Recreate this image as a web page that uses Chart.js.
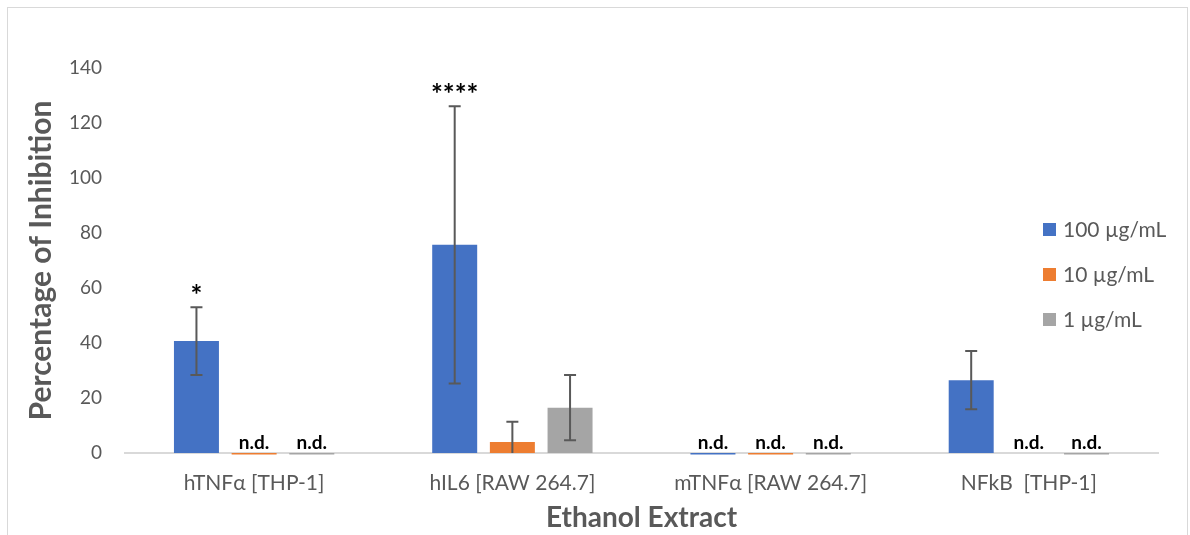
<!DOCTYPE html>
<html>
<head>
<meta charset="utf-8">
<script src="https://cdn.jsdelivr.net/npm/chart.js@4/dist/chart.umd.min.js"></script>
<style>
    html, body { margin: 0; padding: 0; background: #ffffff; overflow: hidden; }
    #wrap { width: 1190px; height: 535px; position: relative; }
</style>
</head>
<body>
<div id="wrap"><canvas id="inhibition"></canvas></div>
<script>
// data
const categories = ["hTNF\u03b1 [THP-1]", "hIL6 [RAW 264.7]", "mTNF\u03b1 [RAW 264.7]", "NFkB  [THP-1]"];
const seriesLabels = ["100 \u00b5g/mL", "10 \u00b5g/mL", "1 \u00b5g/mL"];
const seriesColors = ["#4472C4", "#ED7D31", "#A5A5A5"];

const values100 = [40.7, 75.7, -0.5, 26.5];
const values10 = [-0.5, 4.0, -0.5, 0];
const values1 = [-0.5, 16.5, -0.5, -0.5];

const errors100 = [12.3, 50.4, 0, 10.6];
const errors10 = [0, 7.4, 0, 0];
const errors1 = [0, 11.9, 0, 0];

const marks100 = ["*", "****", "n.d.", ""];
const marks10 = ["n.d.", "", "n.d.", "n.d."];
const marks1 = ["n.d.", "", "n.d.", "n.d."];

const yTicks = [0, 20, 40, 60, 80, 100, 120, 140];

const FONT = "Lato, 'Open Sans', sans-serif";
const GREY_TEXT = "#595959";

// error bars, clipped to the plot area like the original
const errorBarPlugin = {
    id: "errorBars",
    afterDatasetsDraw(chart)
    {
        let ctx = chart.ctx;
        let area = chart.chartArea;
        let yScale = chart.scales.y;
        ctx.save();
        ctx.beginPath();
        ctx.rect(area.left, area.top, area.right - area.left, area.bottom - area.top);
        ctx.clip();
        ctx.strokeStyle = "#595959";
        ctx.lineWidth = 2;
        chart.data.datasets.forEach((ds, i) => {
            let meta = chart.getDatasetMeta(i);
            meta.data.forEach((bar, j) => {
                let err = ds.errors[j];
                if(!err) return;
                let v = ds.data[j];
                let yHi = yScale.getPixelForValue(v + err);
                let yLo = yScale.getPixelForValue(v - err);
                ctx.beginPath();
                ctx.moveTo(bar.x, yHi);
                ctx.lineTo(bar.x, yLo);
                ctx.moveTo(bar.x - 6, yHi);
                ctx.lineTo(bar.x + 6, yHi);
                ctx.moveTo(bar.x - 6, yLo);
                ctx.lineTo(bar.x + 6, yLo);
                ctx.stroke();
            });
        });
        ctx.restore();
    }
};

// significance stars and n.d. labels above each bar
const markPlugin = {
    id: "marks",
    afterDatasetsDraw(chart)
    {
        let ctx = chart.ctx;
        let yScale = chart.scales.y;
        ctx.save();
        ctx.fillStyle = "#000000";
        ctx.textAlign = "center";
        ctx.textBaseline = "alphabetic";
        chart.data.datasets.forEach((ds, i) => {
            let meta = chart.getDatasetMeta(i);
            meta.data.forEach((bar, j) => {
                let text = ds.marks[j];
                if(!text) return;
                let err = ds.errors[j];
                let top = yScale.getPixelForValue(Math.max(ds.data[j], 0) + err);
                if(text === "n.d.")
                {
                    ctx.font = "bold 19px " + FONT;
                    ctx.fillText(text, bar.x, top - 4);
                }
                else
                {
                    ctx.font = "bold 28px " + FONT;
                    ctx.fillText(text, bar.x, top - 2);
                }
            });
        });
        ctx.restore();
    }
};

// legend drawn over the right side of the plot, as in the original
const sideLegendPlugin = {
    id: "sideLegend",
    afterDraw(chart)
    {
        let ctx = chart.ctx;
        ctx.save();
        ctx.font = "21px " + FONT;
        ctx.textAlign = "left";
        ctx.textBaseline = "middle";
        chart.data.datasets.forEach((ds, i) => {
            let y = 229.5 + i * 45;
            ctx.fillStyle = ds.backgroundColor;
            ctx.fillRect(1043, y - 6.5, 13, 13);
            ctx.fillStyle = GREY_TEXT;
            ctx.fillText(ds.label, 1063, y + 1);
        });
        ctx.restore();
    }
};

const framePlugin = {
    id: "frame",
    beforeDraw(chart)
    {
        let ctx = chart.ctx;
        ctx.save();
        ctx.fillStyle = "#ffffff";
        ctx.fillRect(0, 0, chart.width, chart.height);
        ctx.strokeStyle = "#d9d9d9";
        ctx.lineWidth = 1;
        ctx.strokeRect(7.5, 7.5, 1180, 540);
        ctx.restore();
    }
};

function makeDataset(i, values, errors, marks)
{
    return {
        label: seriesLabels[i],
        data: values,
        errors: errors,
        marks: marks,
        backgroundColor: seriesColors[i],
        borderWidth: 0,
        clip: false
    };
}

new Chart(document.getElementById("inhibition").getContext("2d"), {
    type: "bar",
    data: {
        labels: categories,
        datasets: [
            makeDataset(0, values100, errors100, marks100),
            makeDataset(1, values10, errors10, marks10),
            makeDataset(2, values1, errors1, marks1)
        ]
    },
    options: {
        responsive: true,
        maintainAspectRatio: false,
        animation: false,
        layout: { padding: { top: 68, right: 32, left: 0, bottom: 0 } },
        categoryPercentage: 0.67,
        barPercentage: 0.78,
        plugins: {
            legend: { display: false },
            tooltip: { enabled: false }
        },
        scales: {
            x: {
                grid: { display: false, drawTicks: false },
                border: { display: true, color: "#d9d9d9", width: 2 },
                ticks: {
                    color: GREY_TEXT,
                    font: { family: FONT, size: 21 },
                    padding: 18,
                    maxRotation: 0,
                    autoSkip: false
                },
                title: {
                    display: true,
                    text: "Ethanol Extract",
                    color: GREY_TEXT,
                    font: { family: FONT, size: 28, weight: "bold" },
                    padding: { top: 0, bottom: 0 }
                },
                afterFit(scale) { scale.height = 82; }
            },
            y: {
                min: 0,
                max: 140,
                grid: { display: false, drawTicks: false },
                border: { display: false },
                afterBuildTicks(scale) { scale.ticks = yTicks.map(v => ({ value: v })); },
                ticks: {
                    color: GREY_TEXT,
                    font: { family: FONT, size: 19 },
                    padding: 23
                },
                title: {
                    display: true,
                    text: "Percentage of Inhibition",
                    color: GREY_TEXT,
                    font: { family: FONT, size: 30, weight: "bold" },
                    padding: { top: 23, bottom: 0 }
                },
                afterFit(scale) { scale.width = 125; }
            }
        }
    },
    plugins: [framePlugin, errorBarPlugin, markPlugin, sideLegendPlugin]
});
</script>
</body>
</html>
